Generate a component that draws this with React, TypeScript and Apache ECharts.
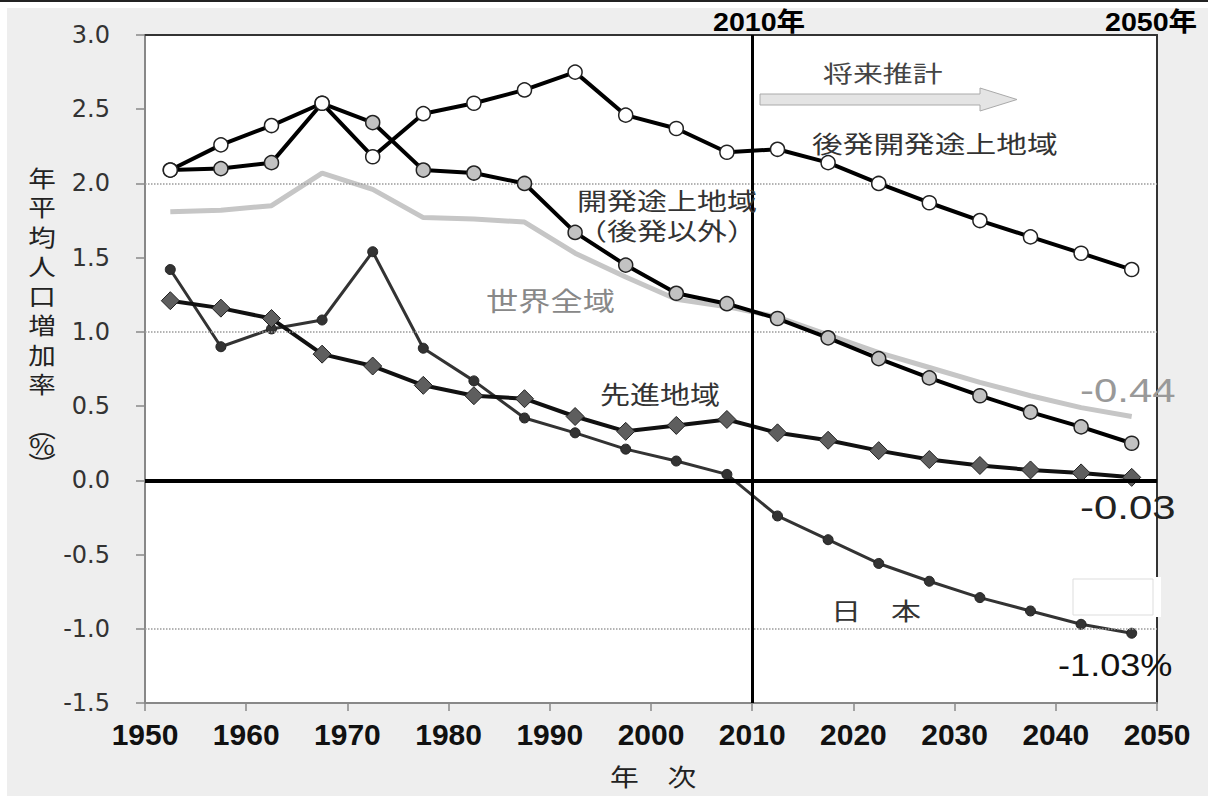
import React, { useEffect, useRef } from 'react';
import * as echarts from 'echarts';

const years = [1952.5, 1957.5, 1962.5, 1967.5, 1972.5, 1977.5, 1982.5, 1987.5, 1992.5, 1997.5, 2002.5, 2007.5, 2012.5, 2017.5, 2022.5, 2027.5, 2032.5, 2037.5, 2042.5, 2047.5];
const ldc = [2.09, 2.26, 2.39, 2.54, 2.18, 2.47, 2.54, 2.63, 2.75, 2.46, 2.37, 2.21, 2.23, 2.14, 2.0, 1.87, 1.75, 1.64, 1.53, 1.42];
const developing = [2.09, 2.1, 2.14, 2.54, 2.41, 2.09, 2.07, 2.0, 1.67, 1.45, 1.26, 1.19, 1.09, 0.96, 0.82, 0.69, 0.57, 0.46, 0.36, 0.25];
const world = [1.81, 1.82, 1.85, 2.07, 1.96, 1.77, 1.76, 1.74, 1.53, 1.37, 1.22, 1.17, 1.1, 0.98, 0.86, 0.76, 0.66, 0.57, 0.49, 0.43];
const developed = [1.21, 1.16, 1.09, 0.85, 0.77, 0.64, 0.57, 0.55, 0.43, 0.33, 0.37, 0.41, 0.32, 0.27, 0.2, 0.14, 0.1, 0.07, 0.05, 0.02];
const japan = [1.42, 0.9, 1.02, 1.08, 1.54, 0.89, 0.67, 0.42, 0.32, 0.21, 0.13, 0.04, -0.24, -0.4, -0.56, -0.68, -0.79, -0.88, -0.97, -1.03];

const guideValues = [2, 1, -1];
const baseYear = 2010;

const JP = 'Noto Sans CJK JP, sans-serif';
const NUM = 'Liberation Sans, Noto Sans CJK JP, sans-serif';

const pairs = (vals: number[]) => years.map((y, i) => [y, vals[i]]);

function txt(text: string, x: number, y: number, fontSize: number, fill: string, scaleX: number, align = 'left', extra: any = {}) {
  const fam = extra.fontFamily || JP;
  const weight = extra.fontWeight || 'normal';
  return {
    type: 'text',
    x,
    y,
    scaleX,
    z: 50,
    silent: true,
    style: {
      text,
      fill,
      fontSize,
      fontFamily: fam,
      fontWeight: weight,
      align,
      textAlign: align,
      verticalAlign: 'middle',
      textVerticalAlign: 'middle',
      lineHeight: extra.lineHeight,
    },
  };
}

export default function App() {
  const ref = useRef<HTMLDivElement>(null);
  useEffect(() => {
    if (!ref.current) return;
    const chart = echarts.init(ref.current, undefined, { renderer: 'svg' });
    const option: any = {
      animation: false,
      backgroundColor: '#eeeeee',
      grid: { left: 145, right: 51, top: 35, bottom: 93, show: true, backgroundColor: '#ffffff', borderWidth: 0 },
      xAxis: [
        {
          type: 'value', min: 1950, max: 2050, interval: 10,
          axisLine: { show: true, onZero: false, lineStyle: { color: '#888', width: 2 } },
          axisTick: { show: true, length: 8, lineStyle: { color: '#888', width: 1.5 } },
          axisLabel: { margin: 16, fontSize: 30, fontWeight: 'bold', color: '#111', fontFamily: 'Liberation Sans', formatter: (v: number) => String(v) },
          splitLine: { show: false },
        },
        {
          type: 'value', min: 1950, max: 2050, position: 'top',
          axisLine: { show: true, onZero: false, lineStyle: { color: '#333', width: 2 } },
          axisTick: { show: false }, axisLabel: { show: false }, splitLine: { show: false },
        },
      ],
      yAxis: [
        {
          type: 'value', min: -1.5, max: 3, interval: 0.5,
          axisLine: { show: true, onZero: false, lineStyle: { color: '#888', width: 2 } },
          axisTick: { show: true, length: 9, lineStyle: { color: '#888', width: 1.5 } },
          axisLabel: { margin: 35, fontSize: 24, color: '#333', fontFamily: 'DejaVu Sans', formatter: (v: number) => v.toFixed(1) },
          splitLine: { show: false },
        },
        {
          type: 'value', min: -1.5, max: 3, position: 'right',
          axisLine: { show: true, onZero: false, lineStyle: { color: '#333', width: 2 } },
          axisTick: { show: false }, axisLabel: { show: false }, splitLine: { show: false },
        },
      ],
      series: [
        {
          name: '世界全域', type: 'line', data: pairs(world), showSymbol: false, symbol: 'none', z: 2,
          lineStyle: { color: '#c6c6c6', width: 5 },
          markLine: {
            silent: true, symbol: 'none', label: { show: false },
            data: [
              ...guideValues.map((v) => ({ yAxis: v, lineStyle: { color: '#9a9a9a', type: 'dotted', width: 1.5 } })),
              { yAxis: 0, lineStyle: { color: '#000', type: 'solid', width: 4 } },
              { xAxis: baseYear, lineStyle: { color: '#000', type: 'solid', width: 3 } },
            ],
          },
        },
        {
          name: '日本', type: 'line', data: pairs(japan), z: 3, symbol: 'circle', symbolSize: 10,
          lineStyle: { color: '#333', width: 3 },
          itemStyle: { color: '#333', borderColor: '#222', borderWidth: 1 },
        },
        {
          name: '先進地域', type: 'line', data: pairs(developed), z: 4, symbol: 'diamond', symbolSize: 18,
          lineStyle: { color: '#111', width: 4 },
          itemStyle: { color: '#5e5e5e', borderColor: '#222', borderWidth: 1 },
        },
        {
          name: '開発途上地域（後発以外）', type: 'line', data: pairs(developing), z: 5, symbol: 'circle', symbolSize: 14,
          lineStyle: { color: '#000', width: 4 },
          itemStyle: { color: '#c2c2c2', borderColor: '#222', borderWidth: 1.5 },
        },
        {
          name: '後発開発途上地域', type: 'line', data: pairs(ldc), z: 6, symbol: 'circle', symbolSize: 14,
          lineStyle: { color: '#000', width: 4 },
          itemStyle: { color: '#ffffff', borderColor: '#222', borderWidth: 1.5 },
        },
      ],
      graphic: [
        { type: 'rect', shape: { x: 0, y: 0, width: 1208, height: 8 }, style: { fill: '#fff' }, z: -10, silent: true },
        { type: 'rect', shape: { x: 0, y: 0, width: 7, height: 796 }, style: { fill: '#fff' }, z: -10, silent: true },
        { type: 'rect', shape: { x: 0, y: 0, width: 1208, height: 2 }, style: { fill: '#222' }, z: 10, silent: true },
        { type: 'rect', shape: { x: 1073, y: 577, width: 88, height: 40 }, style: { fill: '#fff' }, z: 40, silent: true },
        { type: 'rect', shape: { x: 1073, y: 579, width: 80, height: 36 }, style: { fill: '#fff', stroke: '#dddddd', lineWidth: 1 }, z: 41, silent: true },
        {
          type: 'polygon', z: 40, silent: true,
          shape: { points: [[760, 94], [980, 94], [980, 88], [1017, 99.5], [980, 111], [980, 105], [760, 105]] },
          style: { fill: '#e4e4e4', stroke: '#aaaaaa', lineWidth: 1 },
        },
        txt('2010年', 713, 22, 26, '#000', 1.1, 'left', { fontFamily: NUM, fontWeight: 'bold' }),
        txt('2050年', 1105, 22, 26, '#000', 1.1, 'left', { fontFamily: NUM, fontWeight: 'bold' }),
        txt('将来推計', 823, 72, 23, '#444', 1.3),
        txt('後発開発途上地域', 812, 143, 24, '#333', 1.28),
        txt('開発途上地域', 577, 199, 24, '#333', 1.25),
        txt('（後発以外）', 577, 229, 24, '#333', 1.25),
        txt('世界全域', 486, 299, 26, '#888', 1.24),
        txt('先進地域', 600, 393, 25, '#333', 1.2),
        txt('日　本', 831, 609, 24, '#333', 1.25),
        txt('-0.44', 1080, 391, 33, '#999', 1.27, 'left', { fontFamily: NUM }),
        txt('-0.03', 1080, 508, 33, '#222', 1.27, 'left', { fontFamily: NUM }),
        txt('-1.03%', 1058, 665, 32, '#111', 1.13, 'left', { fontFamily: NUM }),
        txt('年　次', 610, 776, 24, '#222', 1.2),
        txt('年\n平\n均\n人\n口\n増\n加\n率', 42, 280, 23, '#222', 1.2, 'center', { lineHeight: 29.5 }),
        txt('︵', 42, 427, 23, '#222', 1.2, 'center'),
        txt('%', 42, 445, 23, '#222', 1.2, 'center'),
        txt('︶', 42, 463, 23, '#222', 1.2, 'center'),
      ],
    };
    chart.setOption(option);
    return () => chart.dispose();
  }, []);
  return <div ref={ref} style={{ position: 'absolute', left: 0, top: 0, width: 1208, height: 796 }} />;
}
